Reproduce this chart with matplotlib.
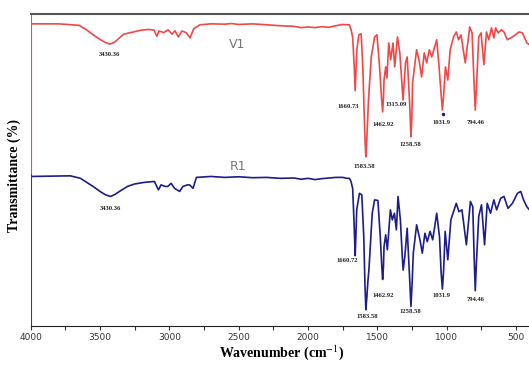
import matplotlib
matplotlib.use('Agg')
import matplotlib.pyplot as plt

# V1 spectrum (wavenumber, transmittance on a shared 0-100 scale)
v1_wn = [4000, 3800, 3700, 3650, 3600, 3550, 3500, 3460, 3430, 3400, 3380, 3330,
         3250, 3200, 3150, 3110, 3090, 3075, 3040, 3010, 2980, 2960, 2935, 2910,
         2880, 2850, 2825, 2780, 2700, 2600, 2550, 2500, 2400, 2300, 2200, 2100,
         2050, 2000, 1950, 1900, 1850, 1800, 1750, 1720, 1702, 1690, 1678, 1668,
         1660, 1654, 1648, 1634, 1617, 1605, 1595, 1588, 1583, 1578, 1570, 1564,
         1544, 1520, 1503, 1484, 1470, 1462, 1456, 1452, 1440, 1431, 1418, 1404,
         1387, 1375, 1355, 1338, 1322, 1315, 1308, 1297, 1285, 1268, 1258, 1252,
         1246, 1217, 1200, 1181, 1162, 1145, 1125, 1108, 1072, 1055, 1040, 1031,
         1022, 1009, 992, 975, 951, 931, 914, 897, 866, 834, 817, 803, 794, 786,
         769, 752, 732, 713, 696, 677, 660, 647, 628, 606, 587, 563, 526, 478,
         454, 422, 400]
v1_t = [96.8, 96.8, 96.5, 96.3, 95.0, 93.3, 91.8, 90.8, 90.3, 90.8, 91.5, 93.5,
        94.3, 94.8, 95.0, 94.8, 92.8, 94.5, 94.0, 94.9, 93.5, 94.6, 92.6, 94.5,
        94.0, 92.3, 95.2, 96.5, 96.8, 96.7, 96.9, 96.6, 96.8, 96.5, 96.2, 96.0,
        95.6, 95.8, 95.6, 95.9, 95.7, 96.2, 96.6, 96.5, 96.5, 95.0, 92.5, 84.0,
        75.4, 82.0, 88.5, 93.3, 93.6, 83.0, 68.0, 58.5, 54.2, 58.0, 66.0, 72.4,
        86.2, 92.6, 93.3, 83.0, 73.0, 68.6, 73.0, 78.8, 83.0, 79.5, 90.7, 85.3,
        90.7, 83.0, 92.6, 87.5, 77.0, 72.4, 77.0, 84.3, 86.2, 72.0, 60.6, 66.0,
        77.9, 88.5, 85.3, 79.8, 87.5, 84.3, 88.5, 86.2, 91.7, 83.0, 74.0, 69.2,
        74.0, 83.0, 78.8, 88.5, 92.6, 94.2, 91.7, 93.3, 84.3, 95.8, 93.9, 78.0,
        69.2, 76.0, 92.6, 93.9, 83.7, 94.2, 91.7, 95.5, 92.3, 95.5, 93.9, 94.9,
        94.2, 91.7, 92.6, 94.2, 93.9, 90.7, 90.0]

# R1 spectrum
r1_wn = [4000, 3714, 3641, 3550, 3500, 3460, 3423, 3390, 3360, 3302, 3250, 3181,
         3108, 3079, 3060, 3030, 3011, 2987, 2963, 2926, 2902, 2870, 2854, 2829,
         2805, 2700, 2600, 2500, 2400, 2300, 2200, 2100, 2050, 2000, 1950, 1900,
         1800, 1750, 1720, 1702, 1690, 1678, 1668, 1660, 1654, 1649, 1629, 1612,
         1598, 1590, 1583, 1576, 1568, 1561, 1537, 1520, 1496, 1479, 1468, 1462,
         1456, 1452, 1440, 1428, 1406, 1392, 1377, 1363, 1351, 1334, 1320, 1314,
         1302, 1285, 1266, 1258, 1250, 1241, 1217, 1193, 1176, 1157, 1140, 1120,
         1101, 1072, 1052, 1040, 1031, 1022, 1011, 992, 970, 931, 912, 890, 858,
         829, 812, 802, 794, 786, 769, 749, 727, 708, 684, 660, 640, 611, 587,
         558, 526, 490, 466, 446, 422, 400]
r1_t = [47.9, 48.1, 47.3, 44.7, 43.1, 42.0, 41.5, 42.2, 43.1, 44.7, 45.5, 46.0,
        46.3, 43.6, 45.2, 44.7, 44.7, 45.7, 44.1, 43.1, 44.7, 45.2, 45.2, 44.1,
        47.6, 47.9, 47.6, 47.8, 47.5, 47.6, 47.3, 47.4, 47.0, 47.3, 46.9, 47.2,
        47.6, 47.6, 47.3, 47.3, 46.3, 44.0, 33.0, 22.5, 30.0, 37.2, 42.5, 42.0,
        28.6, 14.0, 5.2, 9.0, 14.5, 17.9, 36.1, 40.4, 40.2, 28.6, 19.0, 14.9,
        19.0, 25.4, 29.2, 24.4, 37.2, 34.0, 36.1, 30.8, 41.5, 34.0, 22.0, 17.9,
        22.2, 31.3, 14.0, 6.2, 13.0, 23.3, 32.4, 27.6, 23.3, 29.7, 27.0, 30.3,
        27.6, 36.1, 28.6, 17.0, 11.8, 18.0, 30.3, 21.2, 34.0, 39.3, 36.6, 37.2,
        26.0, 39.9, 38.2, 22.0, 11.3, 20.0, 35.1, 38.8, 26.0, 39.3, 36.1, 40.4,
        37.2, 40.9, 41.5, 37.7, 39.3, 42.5, 43.1, 40.4, 38.2, 37.0]

# peak labels: text, wavenumber, transmittance
v1_labels = [('3430.36', 3430, 86.9), ('1660.73', 1709, 70.3), ('1583.58', 1594, 51.1),
             ('1462.92', 1460, 64.4), ('1315.09', 1363, 70.8), ('1258.58', 1261, 58.3),
             ('1031.9', 1040, 65.2), ('794.46', 789, 65.2)]
r1_labels = [('3430.36', 3423, 37.7), ('1660.72', 1714, 20.9), ('1583.58', 1576, 3.0),
             ('1462.92', 1460, 9.7), ('1258.58', 1261, 4.6), ('1031.9', 1040, 9.7),
             ('794.46', 793, 8.5)]
xticks = [4000, 3500, 3000, 2500, 2000, 1500, 1000, 500]

red = '#f04848'
blue = '#1c1c8a'

plt.rcParams['mathtext.fontset'] = 'stix'
fig = plt.figure(figsize=(5.29, 3.65), dpi=100)
ax = fig.add_axes([0.058, 0.107, 0.95, 0.855])

ax.plot(v1_wn, v1_t, color=red, lw=1.2)
ax.plot(r1_wn, r1_t, color=blue, lw=1.2)

for txt, x, y in v1_labels + r1_labels:
    ax.text(x, y, txt, fontsize=4.8, fontweight='bold', family='Liberation Serif',
            ha='center', va='center', color='#222222')
ax.plot([1028], [67.9], 'o', ms=1.5, color=blue)

ax.text(2514, 90.1, 'V1', fontsize=9, color='#777777', ha='center', va='center')
ax.text(2507, 51.1, 'R1', fontsize=9, color='#777777', ha='center', va='center')

ax.set_xlim(4000, 376)
ax.set_ylim(0, 100)
ax.set_xticks(xticks)
ax.set_xticks(range(3750, 376, -500), minor=True)
ax.set_yticks([])
ax.tick_params(axis='x', which='both', direction='out', length=3, width=0.8,
               labelsize=6.5, colors='#333333', pad=2)

ax.spines['right'].set_visible(False)
ax.spines['left'].set_visible(False)
ax.spines['top'].set_color('#555555')
ax.spines['top'].set_linewidth(1.5)
ax.spines['bottom'].set_color('#222222')
ax.axvline(4000, ymin=0.484, ymax=1, color=red, lw=1.5)
ax.axvline(4000, ymin=0, ymax=0.484, color='#3030b0', lw=1.5)

ax.set_xlabel('Wavenumber (cm$^{-1}$)', fontsize=10, fontweight='bold',
              family='Liberation Serif', labelpad=1)
fig.text(0.027, 0.52, 'Transmittance (%)', rotation=90, fontsize=10,
         fontweight='bold', family='Liberation Serif', ha='center', va='center')

fig.savefig('out.png', dpi=100)
